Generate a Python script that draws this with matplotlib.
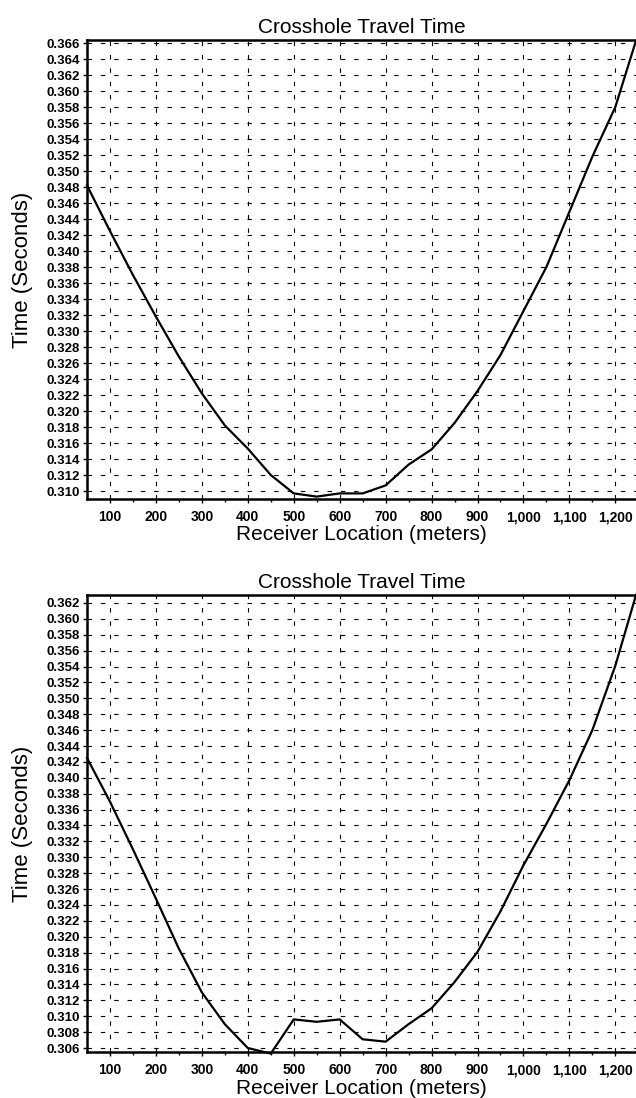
import matplotlib
matplotlib.use("Agg")
import matplotlib.pyplot as plt
import numpy as np

plt.rcParams['font.family'] = ['Liberation Sans', 'DejaVu Sans']

# ---- data ----
receiver_m = [50, 100, 150, 200, 250, 300, 350, 400, 450, 500, 550, 600, 650,
              700, 750, 800, 850, 900, 950, 1000, 1050, 1100, 1150, 1200, 1245]
time_top = [0.3482, 0.3425, 0.3370, 0.3318, 0.3268, 0.3222, 0.3182, 0.3153,
            0.3120, 0.3097, 0.3093, 0.3097, 0.3097, 0.3107, 0.3133, 0.3152,
            0.3185, 0.3225, 0.3270, 0.3325, 0.3380, 0.3449, 0.3518, 0.3580, 0.3663]
time_bottom = [0.3425, 0.3370, 0.3310, 0.3248, 0.3185, 0.3130, 0.3090, 0.3060,
               0.3053, 0.3096, 0.3093, 0.3096, 0.3071, 0.3068, 0.3090, 0.3110,
               0.3143, 0.3181, 0.3232, 0.3290, 0.3342, 0.3397, 0.3460, 0.3541, 0.3630]

x_ticks = [100, 200, 300, 400, 500, 600, 700, 800, 900, 1000, 1100, 1200]
x_minor_ticks = [150, 250, 350, 450, 550, 650, 750, 850, 950, 1050, 1150]
x_tick_labels = ['100', '200', '300', '400', '500', '600', '700', '800', '900',
                 '1,000', '1,100', '1,200']
y_ticks_top = [round(0.310 + 0.002 * i, 3) for i in range(29)]      # 0.310 .. 0.366
y_ticks_bottom = [round(0.306 + 0.002 * i, 3) for i in range(29)]   # 0.306 .. 0.362

title = "Crosshole Travel Time"
xlabel = "Receiver Location (meters)"
ylabel = "Time (Seconds)"

W, H = 636, 1098
fig = plt.figure(figsize=(W / 100, H / 100), dpi=100)

def make_axes(rect, x, y, yticks, ylim):
    ax = fig.add_axes(rect)
    ax.plot(x, y, color='black', lw=1.6, zorder=3, clip_on=False)
    ax.set_xlim(50, 1245)
    ax.set_ylim(*ylim)
    ax.set_xticks(x_ticks)
    ax.set_xticks(x_minor_ticks, minor=True)
    ax.set_xticklabels(x_tick_labels)
    ax.set_yticks(yticks)
    ax.set_yticklabels([f"{v:.3f}" for v in yticks])
    ax.grid(True, which='major', color='black', linestyle=(0, (4, 8)), linewidth=0.8)
    ax.set_axisbelow(True)
    for side in ['left', 'bottom', 'top']:
        ax.spines[side].set_linewidth(1.8)
    ax.spines['right'].set_visible(False)
    ax.tick_params(axis='y', direction='out', length=3, width=1, labelsize=9.5, pad=2)
    ax.tick_params(axis='x', which='major', direction='out', length=3, width=1,
                   labelsize=10, pad=5)
    ax.tick_params(axis='x', which='minor', direction='out', length=2.5, width=1)
    for lab in ax.get_xticklabels() + ax.get_yticklabels():
        lab.set_fontweight('bold')
    ax.set_title(title, fontsize=15, pad=5)
    ax.set_xlabel(xlabel, fontsize=15, labelpad=1)
    ax.set_ylabel(ylabel, fontsize=16)
    ax.yaxis.set_label_coords(-54 / (W - 87), 0.5)
    return ax

ax1 = make_axes([87 / W, 1 - 499 / H, 1 - 87 / W, (499 - 40) / H],
                receiver_m, time_top, y_ticks_top, (0.3090, 0.36638))
ax2 = make_axes([87 / W, 1 - 1052 / H, 1 - 87 / W, (1052 - 595) / H],
                receiver_m, time_bottom, y_ticks_bottom, (0.3055, 0.3630))

fig.savefig("out.png", dpi=100, facecolor='white')
